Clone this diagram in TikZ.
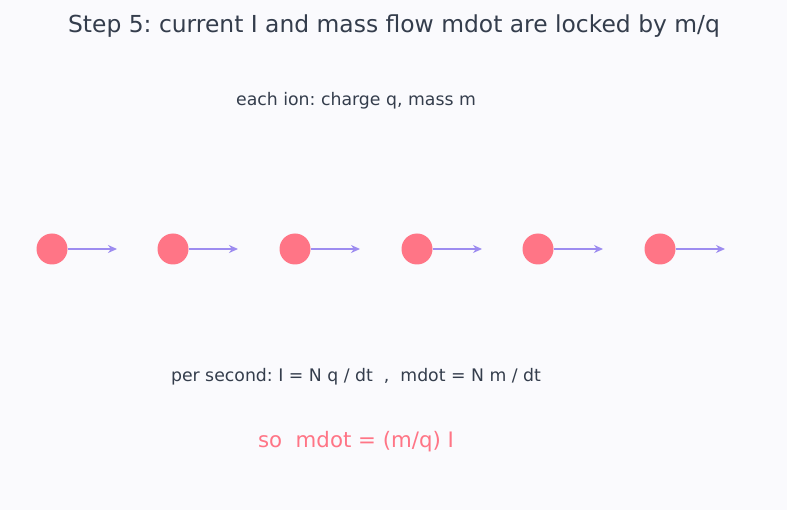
\documentclass[tikz,border=0pt]{standalone}
\usepackage{fontspec}
\setmainfont{DejaVu Sans}
\usepackage{tikz}
\usetikzlibrary{arrows.meta, positioning}
\definecolor{bgcol}{HTML}{FAFAFD}
\definecolor{inkcol}{HTML}{343D4C}
\definecolor{ioncol}{HTML}{FF7586}
\definecolor{flowcol}{HTML}{9D8CF0}
\frenchspacing

\begin{document}
\begin{tikzpicture}[
        x=1pt, y=-1pt,
        every node/.style={text=inkcol, inner sep=0pt},
        ion/.style={circle, fill=ioncol, minimum size=31pt},
        flow/.style={-{Stealth[length=9pt, width=8pt]}, line width=2.3pt, flowcol}
    ]
        \fill[bgcol] (0,0) rectangle (787,510);
        \useasboundingbox (0,0) rectangle (787,510);

        \node[font=\fontsize{23.4}{28}\selectfont] (title) at (394,26) {Step 5: current I and mass flow mdot are locked by m/q};
        \node[font=\fontsize{17.3}{21}\selectfont] (each) at (356,101) {each ion: charge q, mass m};

        \node[ion] (ion1) at (52,249) {};
        \node[ion] (ion2) at (173,249) {};
        \node[ion] (ion3) at (295,249) {};
        \node[ion] (ion4) at (417,249) {};
        \node[ion] (ion5) at (538,249) {};
        \node[ion] (ion6) at (660,249) {};

        \coordinate (tip1) at (117,249);
        \coordinate (tip2) at (238,249);
        \coordinate (tip3) at (360,249);
        \coordinate (tip4) at (482,249);
        \coordinate (tip5) at (603,249);
        \coordinate (tip6) at (725,249);

        \draw[flow] (ion1) -- (tip1);
        \draw[flow] (ion2) -- (tip2);
        \draw[flow] (ion3) -- (tip3);
        \draw[flow] (ion4) -- (tip4);
        \draw[flow] (ion5) -- (tip5);
        \draw[flow] (ion6) -- (tip6);

        \node[font=\fontsize{17.3}{21}\selectfont] (rate) at (356,377) {per second: I = N q / dt\ \ ,\ \ mdot = N m / dt};
        \node[font=\fontsize{21.3}{25}\selectfont, text=ioncol] (result) at (356,442) {so\ \ mdot = (m/q) I};
    \end{tikzpicture}
\end{document}
